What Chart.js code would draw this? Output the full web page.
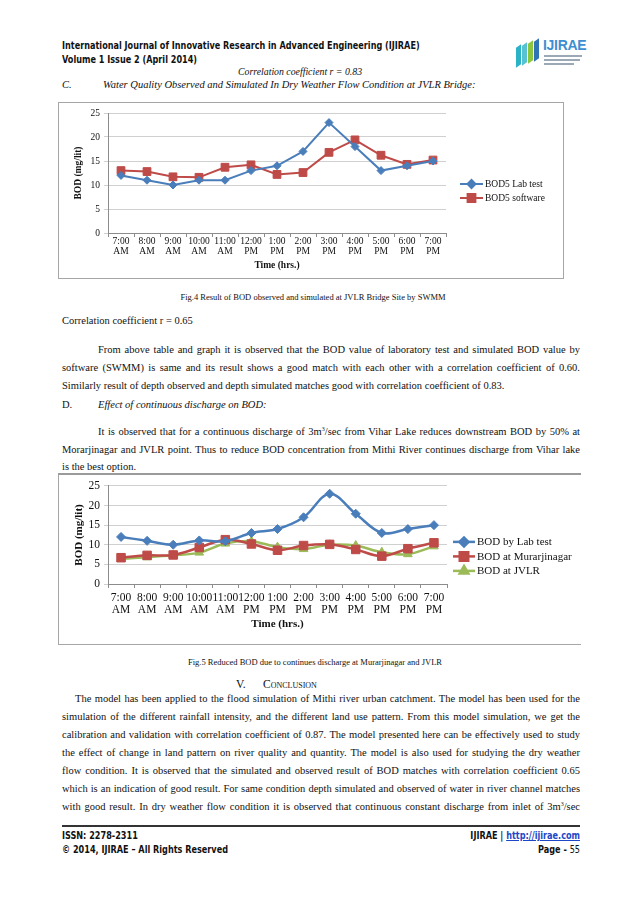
<!DOCTYPE html>
<html>
<head>
<meta charset="utf-8">
<script src="https://cdn.jsdelivr.net/npm/chart.js@4.4.0/dist/chart.umd.min.js"></script>
<style>
  body { margin: 0; width: 638px; height: 903px; background: #fff; position: relative; overflow: hidden;
         font-family: "Liberation Serif", "Times New Roman", serif; color: #111; }
  .t { position: absolute; white-space: nowrap; line-height: 14px; font-size: 10.5px; }
  .hd { font-family: "DejaVu Sans Condensed", "Liberation Sans Narrow", sans-serif; font-weight: bold; font-size: 10.5px;
        transform: scaleX(0.86); transform-origin: left center; }
  .hdr { transform-origin: right center; }
  .j { position: absolute; white-space: nowrap; line-height: 14px; font-size: 10.5px;
       text-align: justify; text-align-last: justify; }
  .cap { font-size: 8.5px; }
  sup { font-size: 6px; line-height: 0; vertical-align: 4px; }
  .frame { position: absolute; border: 1px solid #a6a6a6; }
  .frame canvas { position: absolute; left: 0; top: 0; }
  .rule { position: absolute; left: 62px; width: 518px; height: 2px; background: #333; }
  .logo { position: absolute; left: 512px; top: 36px; width: 74px; height: 32px; }
  .logo .bar { position: absolute; width: 5px; height: 20px; transform: skewY(-35deg); }
  .logo .nm { position: absolute; left: 31px; top: 1px; font-family: "Liberation Sans", sans-serif; font-weight: bold;
              font-size: 14px; color: #3d8fd1; letter-spacing: -0.3px; }
  .logo .ln { position: absolute; left: 32px; height: 1.5px; background: #9aa9b5; }
  a { color: #1d47c9; }
</style>
</head>
<body>

<div class="t hd" style="left:62px; top:38px;">International Journal of Innovative Research in Advanced Engineering (IJIRAE)</div>
<div class="t hd" style="left:62px; top:52px;">Volume 1 Issue 2 (April 2014)</div>

<div class="logo">
  <div class="bar" style="left:4px; top:10px; background:#2ab3c7;"></div>
  <div class="bar" style="left:10px; top:8px; background:#57c2d2;"></div>
  <div class="bar" style="left:16px; top:6px; background:#8cc63f;"></div>
  <div class="bar" style="left:22px; top:4px; background:#2f74b5;"></div>
  <div class="nm">IJIRAE</div>
  <div class="ln" style="top:19px; width:38px;"></div>
  <div class="ln" style="top:23px; width:36px;"></div>
  <div class="ln" style="top:27px; width:30px;"></div>
</div>

<div class="t" style="left:238px; top:65px; font-style:italic; font-size:9.8px;">Correlation coefficient r = 0.83</div>
<div class="t" style="left:62px; top:78px; font-style:italic;">C.</div>
<div class="t" style="left:103px; top:78px; font-style:italic;">Water Quality Observed and Simulated In Dry Weather Flow Condition at JVLR Bridge:</div>

<div class="frame" style="left:58px; top:102px; width:504px; height:175px;">
  <canvas id="chartJvlr" width="504" height="175"></canvas>
</div>

<div class="t cap" style="left:0; width:626px; text-align:center; top:290px;">Fig.4 Result of BOD observed and simulated at JVLR Bridge Site by SWMM</div>

<div class="t" style="left:62px; top:314px;">Correlation coefficient r = 0.65</div>

<div class="j" style="left:98px; width:482px; top:343px;">From above table and graph it is observed that the BOD value of laboratory test and simulated BOD value by</div>
<div class="j" style="left:62px; width:518px; top:361px;">software (SWMM) is same and its result shows a good match with each other with a correlation coefficient of 0.60.</div>
<div class="t" style="left:62px; top:379px;">Similarly result of depth observed and depth simulated matches good with correlation coefficient of 0.83.</div>

<div class="t" style="left:62px; top:398px;">D.</div>
<div class="t" style="left:98px; top:398px; font-style:italic;">Effect of continuous discharge on BOD:</div>

<div class="j" style="left:98px; width:482px; top:425px;">It is observed that for a continuous discharge of 3m<sup>3</sup>/sec from Vihar Lake reduces downstream BOD by 50% at</div>
<div class="j" style="left:62px; width:518px; top:443px;">Morarjinagar and JVLR point. Thus to reduce BOD concentration from Mithi River continues discharge from Vihar lake</div>
<div class="t" style="left:62px; top:460px;">is the best option.</div>

<div class="frame" style="left:58px; top:473px; width:522px; height:169px; border-top:2px solid #9a9a9a; border-right:none;">
  <canvas id="chartReduced" width="522" height="169"></canvas>
</div>

<div class="t cap" style="left:0; width:630px; text-align:center; top:655px;">Fig.5 Reduced BOD due to continues discharge at Murarjinagar and JVLR</div>

<div class="t" style="left:236px; top:677px; font-size:11.5px;">V.</div>
<div class="t" style="left:263px; top:677px; font-size:11.5px; font-variant:small-caps;">Conclusion</div>

<div class="j" style="left:75px; width:505px; top:692px;">The model has been applied to the flood simulation of Mithi river urban catchment. The model has been used for the</div>
<div class="j" style="left:62px; width:518px; top:710px;">simulation of the different rainfall intensity, and the different land use pattern. From this model simulation, we get the</div>
<div class="j" style="left:62px; width:518px; top:728px;">calibration and validation with correlation coefficient of 0.87. The model presented here can be effectively used to study</div>
<div class="j" style="left:62px; width:518px; top:746px;">the effect of change in land pattern on river quality and quantity. The model is also used for studying the dry weather</div>
<div class="j" style="left:62px; width:518px; top:764px;">flow condition. It is observed that the simulated and observed result of BOD matches with correlation coefficient 0.65</div>
<div class="j" style="left:62px; width:518px; top:782px;">which is an indication of good result. For same condition depth simulated and observed of water in river channel matches</div>
<div class="j" style="left:62px; width:518px; top:800px;">with good result. In dry weather flow condition it is observed that continuous constant discharge from inlet of 3m<sup>3</sup>/sec</div>

<div class="rule" style="top:825px;"></div>
<div class="t hd" style="left:62px; top:828px;">ISSN: 2278-2311</div>
<div class="t hd" style="left:62px; top:842px;">© 2014, IJIRAE – All Rights Reserved</div>
<div class="t hd hdr" style="left:0; width:580px; text-align:right; top:828px;">IJIRAE | <a href="#">http://ijirae.com</a></div>
<div class="t hd hdr" style="left:0; width:580px; text-align:right; top:842px;">Page - <span style="font-weight:normal;">55</span></div>

<script>
// ---- data ----
const timeLabels = [["7:00","AM"],["8:00","AM"],["9:00","AM"],["10:00","AM"],["11:00","AM"],["12:00","PM"],
                    ["1:00","PM"],["2:00","PM"],["3:00","PM"],["4:00","PM"],["5:00","PM"],["6:00","PM"],["7:00","PM"]];

// Fig.4 - JVLR Bridge, observed vs SWMM
const bod5Lab      = [12, 11, 10, 11, 11, 13, 14, 17, 23, 18, 13, 14, 15];
const bod5Software = [13.0, 12.8, 11.7, 11.6, 13.7, 14.2, 12.2, 12.6, 16.8, 19.4, 16.2, 14.3, 15.2];

// Fig.5 - reduced BOD with continuous discharge
const bodLab          = [12, 11, 10, 11.1, 10.9, 13, 14, 17, 23, 17.9, 13, 14, 15];
const bodMurarjinagar = [6.7, 7.3, 7.4, 9.3, 11.3, 10.2, 8.6, 9.8, 10.1, 8.8, 7.1, 9.0, 10.5];
const bodJvlr         = [6.4, 6.8, 7.3, 8.0, 10.3, 10.9, 9.4, 8.9, 10.0, 9.8, 8.1, 7.6, 9.6];

const BLUE = '#4a7ebb', RED = '#be4b48', GREEN = '#9bbb59';
const SERIF = '"Liberation Serif", "Times New Roman", serif';

// Excel style legend: short line with the marker in the middle, text to the right
const lineLegend = {
  id: 'lineLegend',
  afterDraw(chart, args, o) {
    const ctx = chart.ctx;
    const x0 = chart.chartArea.right + o.dx;
    chart.data.datasets.forEach((ds, i) => {
      const y = chart.chartArea.top + o.dy + i * o.gap;
      ctx.save();
      ctx.strokeStyle = ds.borderColor;
      ctx.lineWidth = ds.borderWidth;
      ctx.beginPath();
      ctx.moveTo(x0, y);
      ctx.lineTo(x0 + o.len, y);
      ctx.stroke();
      ctx.fillStyle = ds.backgroundColor;
      ctx.strokeStyle = ds.borderColor;
      Chart.helpers.drawPoint(ctx, { pointStyle: ds.pointStyle, radius: ds.pointRadius, rotation: 0, borderWidth: 1 },
                              x0 + o.len / 2, y);
      ctx.fillStyle = '#111';
      ctx.font = o.size + 'px ' + SERIF;
      ctx.textBaseline = 'middle';
      ctx.fillText(ds.label, x0 + o.len + 2, y + 0.5);
      ctx.restore();
    });
  }
};

function series(label, data, color, style, r, w, tension) {
  return {
    label: label, data: data,
    borderColor: color, backgroundColor: color,
    borderWidth: w, tension: tension,
    pointStyle: style, pointRadius: r, pointHoverRadius: r,
    pointBackgroundColor: color, pointBorderColor: color, pointBorderWidth: 1
  };
}

function buildOptions(p) {
  return {
    responsive: false,
    animation: false,
    layout: { padding: { top: p.top, right: p.right, left: 0, bottom: 0 } },
    plugins: {
      legend: { display: false },
      tooltip: { enabled: false },
      lineLegend: p.legend
    },
    scales: {
      x: {
        offset: true,
        grid: { display: true, drawOnChartArea: false, drawTicks: true, tickLength: 4, offset: true, color: '#8c8c8c' },
        border: { color: '#8c8c8c' },
        ticks: { color: '#111', autoSkip: false, maxRotation: 0, minRotation: 0, padding: p.xPad,
                 font: { family: SERIF, size: p.tick, lineHeight: 1.05 } },
        title: { display: true, text: 'Time (hrs.)', color: '#111',
                 font: { family: SERIF, size: p.title, weight: 'bold' }, padding: { top: 0, bottom: p.xTitleBottom } },
        afterFit: s => { s.height = p.xHeight; }
      },
      y: {
        min: 0, max: 25,
        ticks: { stepSize: 5, color: '#111', padding: 4, font: { family: SERIF, size: p.tick } },
        grid: { color: '#d0d0d0', tickLength: 4 },
        border: { color: '#8c8c8c' },
        title: { display: true, text: 'BOD (mg/lit)', color: '#111',
                 font: { family: SERIF, size: p.title, weight: p.yWeight }, padding: { top: p.yTitlePad, bottom: 0 } },
        afterFit: s => { s.width = 49; }
      }
    }
  };
}

new Chart(document.getElementById('chartJvlr'), {
  type: 'line',
  data: {
    labels: timeLabels,
    datasets: [
      series('BOD5 Lab test', bod5Lab, BLUE, 'rectRot', 4, 2, 0),
      series('BOD5 software', bod5Software, RED, 'rect', 5.5, 2, 0)
    ]
  },
  options: buildOptions({ top: 10, right: 117, xHeight: 45, xPad: 0, xTitleBottom: 7, tick: 9.5, title: 9.5,
                          yWeight: 'bold', yTitlePad: 14,
                          legend: { dx: 14, dy: 71, gap: 14, len: 23, size: 9.5 } }),
  plugins: [lineLegend]
});

new Chart(document.getElementById('chartReduced'), {
  type: 'line',
  data: {
    labels: timeLabels,
    datasets: [
      series('BOD by Lab test', bodLab, BLUE, 'rectRot', 4.5, 2.5, 0.35),
      series('BOD at Murarjinagar', bodMurarjinagar, RED, 'rect', 6, 2.5, 0.35),
      series('BOD at JVLR', bodJvlr, GREEN, 'triangle', 5, 2.5, 0.35)
    ]
  },
  options: buildOptions({ top: 8, right: 134, xHeight: 60, xPad: 4, xTitleBottom: 13, tick: 11.5, title: 11,
                          yWeight: 'bold', yTitlePad: 14,
                          legend: { dx: 6, dy: 56, gap: 14.5, len: 22, size: 11 } }),
  plugins: [lineLegend]
});
</script>
</body>
</html>
